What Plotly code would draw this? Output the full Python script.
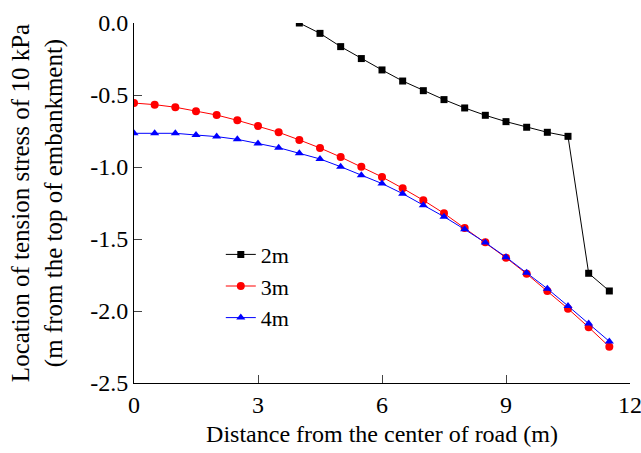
import plotly.graph_objects as go

x_2m = [4.0, 4.5, 5.0, 5.5, 6.0, 6.5, 7.0, 7.5, 8.0, 8.5, 9.0, 9.5, 10.0, 10.5, 11.0, 11.5]
y_2m = [0.0, -0.072, -0.164, -0.247, -0.326, -0.403, -0.470, -0.532, -0.590, -0.641, -0.685, -0.724, -0.759, -0.787, -1.738, -1.861]

x_34 = [0.0, 0.5, 1.0, 1.5, 2.0, 2.5, 3.0, 3.5, 4.0, 4.5, 5.0, 5.5, 6.0, 6.5, 7.0, 7.5, 8.0, 8.5, 9.0, 9.5, 10.0, 10.5, 11.0, 11.5]
y_3m = [-0.556, -0.567, -0.585, -0.613, -0.639, -0.676, -0.715, -0.759, -0.812, -0.868, -0.931, -0.998, -1.069, -1.148, -1.231, -1.322, -1.424, -1.523, -1.630, -1.742, -1.861, -1.984, -2.113, -2.248]
y_4m = [-0.766, -0.766, -0.766, -0.778, -0.789, -0.808, -0.836, -0.866, -0.905, -0.944, -0.998, -1.057, -1.115, -1.185, -1.266, -1.345, -1.433, -1.525, -1.626, -1.734, -1.845, -1.965, -2.086, -2.211]

x_ticks = [0, 3, 6, 9, 12]
y_ticks = [0.0, -0.5, -1.0, -1.5, -2.0, -2.5]
y_tick_text = ["0.0", "-0.5", "-1.0", "-1.5", "-2.0", "-2.5"]

FONT = "Liberation Serif"
FS = 24

fig = go.Figure()
fig.add_trace(go.Scatter(x=x_2m, y=y_2m, mode="lines+markers", name="2m", legendgroup="a",
                         line=dict(color="black", width=1),
                         marker=dict(symbol="square", size=7, color="black")))
fig.add_trace(go.Scatter(x=x_34, y=y_3m, mode="lines+markers", name="3m", legendgroup="b",
                         line=dict(color="red", width=1),
                         marker=dict(symbol="circle", size=8, color="red")))
fig.add_trace(go.Scatter(x=x_34, y=y_4m, mode="lines+markers", name="4m", legendgroup="c",
                         line=dict(color="blue", width=1),
                         marker=dict(symbol="triangle-up", size=8, color="blue")))

fig.update_layout(
    width=641, height=453,
    margin=dict(l=134, r=11, t=23, b=70),
    paper_bgcolor="white", plot_bgcolor="white",
    font=dict(family=FONT, size=FS, color="black"),
    showlegend=True,
    legend=dict(x=0.175, y=0.415, xanchor="left", yanchor="top",
                bgcolor="rgba(0,0,0,0)", font=dict(size=22, family=FONT),
                tracegroupgap=0),
    xaxis=dict(range=[0, 12], tickvals=x_ticks, ticks="inside", ticklen=8,
               showline=True, linecolor="black", linewidth=1, showgrid=False, zeroline=False,
               automargin=False, ticklabeloverflow="allow",
               title=dict(text="Distance from the center of road (m)", font=dict(size=24), standoff=8),
               tickfont=dict(size=FS)),
    yaxis=dict(range=[-2.5, 0.0], tickvals=y_ticks, ticktext=y_tick_text, ticks="inside", ticklen=8,
               showline=True, linecolor="black", linewidth=1, showgrid=False, zeroline=False,
               automargin=False, ticklabeloverflow="allow",
               title=dict(text="Location of tension stress of 10 kPa<br>(m from the top of embankment)",
                          font=dict(size=25), standoff=20),
               tickfont=dict(size=FS)),
)

fig.write_html("out.html", config={"displayModeBar": False},
               post_script="document.body.style.margin='0px';")
